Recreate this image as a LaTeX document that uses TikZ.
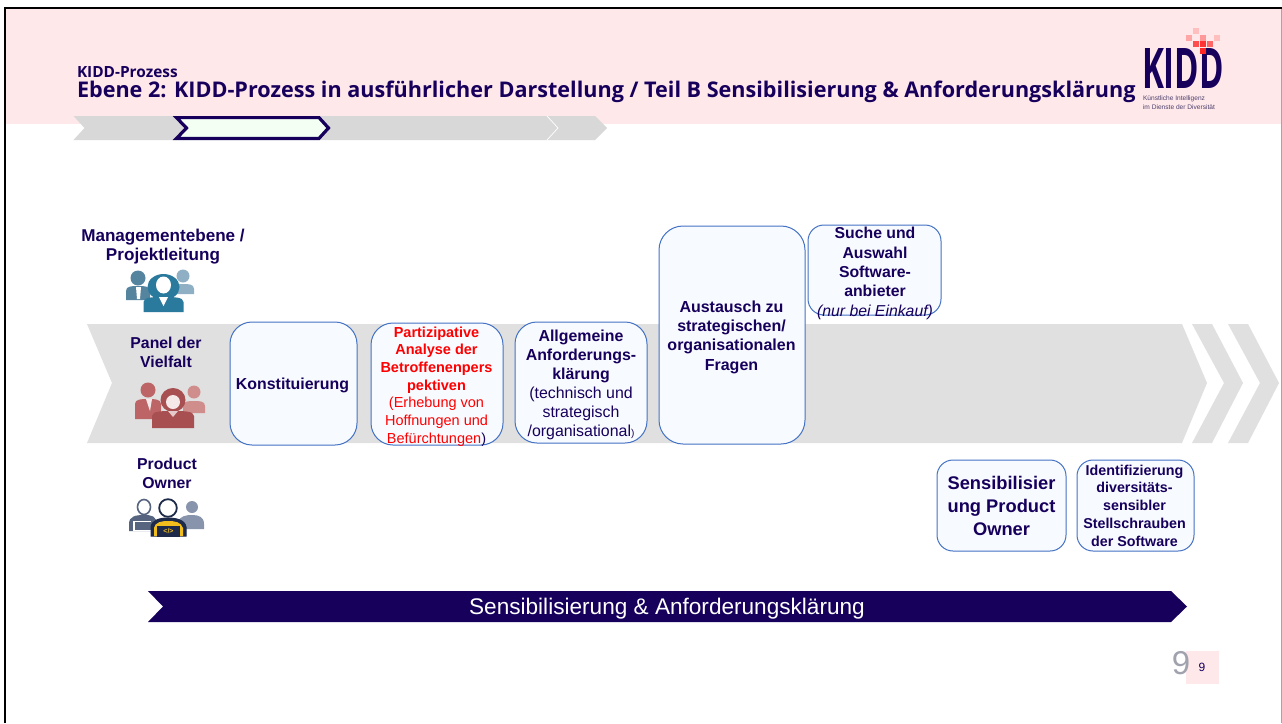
\documentclass[tikz,border=0pt]{standalone}
\usepackage{fontspec}
\setmainfont{Liberation Sans}
\newfontfamily\titlefont{Open Sans}
\definecolor{navy}{HTML}{17005C}
\definecolor{band}{HTML}{FFE8E9}
\definecolor{ribbon}{HTML}{E0E0E0}
\definecolor{crumb}{HTML}{D8D8D8}
\definecolor{boxline}{HTML}{4472C4}
\definecolor{boxfill}{HTML}{F7FBFF}
\definecolor{mgfront}{HTML}{2A7A9E}
\definecolor{mgleft}{HTML}{55849F}
\definecolor{mgright}{HTML}{8FB0C4}
\definecolor{pfront}{HTML}{A84F52}
\definecolor{pleft}{HTML}{BC6466}
\definecolor{pright}{HTML}{CF8E8C}
\definecolor{poside}{HTML}{56647F}
\definecolor{poright}{HTML}{8794AC}
\definecolor{podark}{HTML}{1E2A4A}
\definecolor{poyellow}{HTML}{F2BE1E}
\definecolor{pagegrey}{HTML}{A0A3AE}
\newcommand{\fs}[2]{\fontsize{#1}{#2}\selectfont}
\newcommand{\persona}[7]{% x y headr halfwidth top bottom colour
  \fill[#7] (#1,#2) circle (#3);
  \fill[#7] ({#1-#4},#6) -- ({#1-#4},{#5+5}) .. controls ({#1-#4},#5) and ({#1-0.5*#4},#5) .. (#1,#5)
     .. controls ({#1+0.5*#4},#5) and ({#1+#4},#5) .. ({#1+#4},{#5+5}) -- ({#1+#4},#6) -- cycle;}
\tikzset{
  every node/.style={inner sep=0pt,outer sep=0pt},
  boxshape/.style={draw=boxline,fill=boxfill,line width=1pt,rounded corners=22pt},
  smallbox/.style={draw=boxline,fill=boxfill,line width=1pt,rounded corners=16pt},
  lab/.style={text=navy,align=center},
}
\begin{document}
\begin{tikzpicture}[x=1pt,y=-1pt]
\useasboundingbox (0,0) rectangle (1282,723);
\fill[white] (0,0) rectangle (1282,723);
% header band
\fill[band] (5,9) rectangle (1281,124);
% frame
\draw[black,line width=2pt] (5,723) -- (5,8);
\draw[black,line width=2.6pt] (4,8) -- (1282,8);
\draw[gray!70,line width=1pt] (1281,9) -- (1281,723);
% breadcrumb
\fill[crumb] (73.5,116) -- (173,116) -- (190,128) -- (173,140) -- (73.5,140) -- (84.5,128) -- cycle;
\fill[crumb] (319,116) -- (547,116) -- (558,128) -- (547,140) -- (319,140) -- cycle;
\fill[crumb] (547,116) -- (595,116) -- (607,128) -- (595,140) -- (547,140) -- (558,128) -- cycle;
\draw[white,line width=.7pt] (547,116) -- (558,128) -- (547,140);
\filldraw[fill=green!5!white,draw=navy,line width=3.2pt,miter limit=10]
  (176.5,117.6) -- (319,117.6) -- (328.5,128) -- (319,138.4) -- (176.5,138.4) -- (186.5,128) -- cycle;
% titles
\node[anchor=base west,text=navy] (kicker) at (77,77) {\titlefont\fs{15.4}{15}\bfseries KIDD-Prozess};
\node[anchor=base west,text=navy] (title) at (77,97.5) {\titlefont\fs{21.6}{22}\bfseries Ebene 2: KIDD-Prozess in ausführlicher Darstellung / Teil B Sensibilisierung \& Anforderungsklärung};
% logo
\node[anchor=base west,text=navy] (logo) at (1142,88) {\titlefont\addfontfeature{FakeStretch=0.59}\fs{56}{56}\bfseries KIDD};
\foreach \x/\y/\c in {1196/31/25,1189/38/35,1203/38/40,1217/38/25,1196/44/70,1203/44/80,1210/44/60,1203/51/85}
  \fill[red!\c!white] (\x-3.3,\y-3.3) rectangle (\x+3.3,\y+3.3);
\node[anchor=west,text=navy!50!gray] (logo1) at (1143,98.5) {\fs{6.6}{7}Künstliche Intelligenz};
\node[anchor=west,text=navy!50!gray] (logo2) at (1143,107.5) {\fs{6.6}{7}im Dienste der Diversität};
% ribbon
\fill[ribbon] (87,324) -- (1182,324) -- (1207,383) -- (1182,443) -- (87,443) -- (112,383) -- cycle;
\fill[ribbon] (1192,324) -- (1212,324) -- (1243,383) -- (1212,443) -- (1192,443) -- (1224,383) -- cycle;
\fill[ribbon] (1228,324) -- (1248,324) -- (1279,383) -- (1248,443) -- (1228,443) -- (1260,383) -- cycle;
% role labels
\node[lab,font=\fs{17.1}{19}\bfseries] (mgmt) at (163,246.5) {Managementebene /\\Projektleitung};
\node[lab,font=\fs{15.8}{19}\bfseries] (panel) at (166,352) {Panel der\\Vielfalt};
\node[lab,font=\fs{15.8}{19}\bfseries] (po) at (167,473) {Product\\Owner};
% management icon
\persona{138}{278}{7.5}{12}{286}{300}{mgleft}
\fill[white] (136,287) -- (141,287) -- (140,299) -- (137,299) -- cycle;
\persona{183}{276}{6.5}{11}{284}{294}{mgright}
\fill[white] (146,300) rectangle (181,301);
\fill[mgfront] (163.5,287) ellipse (16 and 13);
\persona{163.5}{288}{0}{20}{297}{312}{mgfront}
\fill[white] (163.5,285) ellipse (7.5 and 8.5);
\fill[white] (159,297) -- (168,297) -- (163.5,306) -- cycle;
% panel icon
\persona{148}{390}{7.5}{13}{399}{419}{pleft}
\fill[white!85!pleft] (146,399) -- (152,399) -- (150,411) -- cycle;
\persona{194}{392}{6.5}{11}{401}{413}{pright}
\fill[pfront] (173,400) ellipse (12.5 and 12);
\persona{173}{403}{0}{21}{411}{428}{pfront}
\fill[white!80!pright] (173,402) ellipse (7 and 7);
\fill[white!70!pfront] (168,411) -- (178,411) -- (173,417) -- cycle;
% product owner icon
\draw[poside,line width=1.6pt,fill=white] (144,507) ellipse (6.5 and 7.5);
\fill[poside] (129,531) -- (129,524) .. controls (129,516) and (136,515) .. (144,515) .. controls (152,515) and (156,516) .. (157,524) -- (157,531) -- cycle;
\fill[white] (133,521) rectangle (151,531);
\fill[poside] (135,522) rectangle (152,530);
\fill[poright] (192,507) circle (6);
\fill[poright] (178,529) -- (178,522) .. controls (180,516) and (186,515) .. (192,515) .. controls (199,515) and (204,517) .. (204,524) -- (204,529) -- cycle;
\draw[podark,line width=1.8pt,fill=white] (168,508) circle (8.8);
\filldraw[draw=podark,fill=podark,line width=1pt] (151,536) -- (151,527) .. controls (152,520) and (160,518) .. (168,518) .. controls (176,518) and (185,520) .. (186,527) -- (186,536) -- cycle;
\fill[poyellow] (154,536) -- (154,528) .. controls (155,522) and (162,521) .. (168,521) .. controls (175,521) and (181,522) .. (183,528) -- (183,536) -- cycle;
\fill[podark] (156.5,526) rectangle (180,537);
\node[text=poyellow,font=\fs{7}{7}\bfseries] (code) at (168.5,531.5) {</>};
% boxes
\node[boxshape,minimum width=127pt,minimum height=123pt] (b1) at (293.5,383.5) {};
\node[boxshape,minimum width=132pt,minimum height=122pt] (b2) at (437,384) {};
\node[boxshape,minimum width=132pt,minimum height=121pt] (b3) at (581,382.5) {};
\node[boxshape,minimum width=146pt,minimum height=218pt,rounded corners=24pt] (b4) at (732,335) {};
\node[smallbox,minimum width=133pt,minimum height=90pt] (b5) at (874.5,270) {};
\node[smallbox,minimum width=129pt,minimum height=91pt] (b6) at (1001.5,505.5) {};
\node[smallbox,minimum width=117pt,minimum height=91pt] (b7) at (1135.5,505.5) {};
% box texts
\node[lab,font=\fs{15.9}{19}\bfseries] (t1) at (292.5,385) {Konstituierung};
\node[align=center,text=red,font=\fs{14.5}{17.7}] (t2) at (436.5,386.5) {\textbf{Partizipative}\\\textbf{Analyse der}\\\textbf{Betroffenenpers}\\\textbf{pektiven}\\(Erhebung von\\Hoffnungen und\\Befürchtungen\textcolor{navy}{)}};
\node[lab,font=\fs{15.9}{19}] (t3) at (581,385) {\textbf{Allgemeine}\\\textbf{Anforderungs-}\\\textbf{klärung}\\(technisch und\\strategisch\\/organisational{\fontsize{10}{19}\selectfont)}};
\node[lab,font=\fs{16}{19.4}\bfseries] (t4) at (731.5,337) {Austausch zu\\strategischen/\\organisationalen\\Fragen};
\node[lab,font=\fs{15.8}{19.3}] (t5) at (875,273.5) {\textbf{Suche und}\\\textbf{Auswahl}\\\textbf{Software-}\\\textbf{anbieter}\\\textit{(nur bei Einkauf)}};
\node[lab,font=\fs{18.3}{23}\bfseries] (t6) at (1001.5,505.5) {Sensibilisier\\ung Product\\Owner};
\node[lab,font=\fs{14.3}{17.7}\bfseries] (t7) at (1134.5,505.5) {Identifizierung\\diversitäts-\\sensibler\\Stellschrauben\\der Software};
% bottom arrow
\fill[navy] (148,591) -- (1171,591) -- (1187,606.5) -- (1171,622) -- (148,622) -- (163,606.5) -- cycle;
\node[text=white,font=\fs{22.6}{23}] (arrowtext) at (667,609) {Sensibilisierung \& Anforderungsklärung};
% page numbers
\fill[band] (1186,651) rectangle (1219,684);
\node[text=pagegrey,font=\fs{33}{33}] (pg1) at (1181,663) {9};
\node[text=navy,font=\fs{12}{12}] (pg2) at (1202,667) {9};
\end{tikzpicture}
\end{document}
